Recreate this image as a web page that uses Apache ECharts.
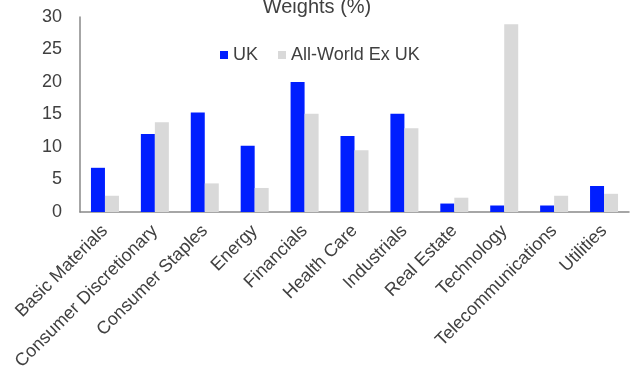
<!DOCTYPE html>
<html>
<head>
<meta charset="utf-8">
<script src="https://cdn.jsdelivr.net/npm/echarts@6/dist/echarts.min.js"></script>
<style>
  html, body { margin: 0; padding: 0; background: #fff; }
  #chart { width: 634px; height: 371px; }
</style>
</head>
<body>
<div id="chart"></div>
<script>
const sectors = [
  'Basic Materials', 'Consumer Discretionary', 'Consumer Staples', 'Energy',
  'Financials', 'Health Care', 'Industrials', 'Real Estate', 'Technology',
  'Telecommunications', 'Utilities'
];
const ukWeights = [6.8, 12.0, 15.3, 10.2, 20.0, 11.7, 15.1, 1.3, 1.0, 1.0, 4.0];
const worldExUkWeights = [2.5, 13.8, 4.4, 3.7, 15.1, 9.5, 12.9, 2.2, 28.9, 2.5, 2.8];

const chart = echarts.init(document.getElementById('chart'));
const font = 'Liberation Sans, Arial, sans-serif';

const option = {
  animation: false,
  textStyle: { fontFamily: font },
  title: {
    text: 'Weights (%)',
    left: 'center',
    top: -8,
    textStyle: { fontFamily: font, fontSize: 20, fontWeight: 'normal', color: '#404040' }
  },
  legend: {
    left: 215,
    top: 41,
    itemWidth: 8,
    itemHeight: 8,
    itemGap: 20,
    icon: 'rect',
    textStyle: { fontFamily: font, fontSize: 18, color: '#404040' },
    data: ['UK', 'All-World Ex UK']
  },
  grid: { left: 80, right: 5, top: 17, bottom: 159, containLabel: false, outerBoundsMode: 'none' },
  xAxis: {
    type: 'category',
    data: sectors,
    axisLine: { lineStyle: { color: '#898989', width: 1.5 } },
    axisTick: { show: false },
    axisLabel: {
      interval: 0,
      rotate: 45,
      margin: 16,
      fontSize: 18,
      color: '#404040',
      fontFamily: font
    }
  },
  yAxis: {
    type: 'value',
    min: 0,
    max: 30,
    interval: 5,
    axisLine: { show: true, lineStyle: { color: '#898989', width: 1.5 } },
    axisTick: { show: false },
    splitLine: { show: false },
    axisLabel: { fontSize: 18, color: '#404040', margin: 18, fontFamily: font }
  },
  series: [
    {
      name: 'UK',
      type: 'bar',
      data: ukWeights,
      barWidth: 14,
      barGap: 0,
      itemStyle: { color: '#001EFF' }
    },
    {
      name: 'All-World Ex UK',
      type: 'bar',
      data: worldExUkWeights,
      barWidth: 14,
      itemStyle: { color: '#D9D9D9' }
    }
  ]
};

chart.setOption(option);
</script>
</body>
</html>
